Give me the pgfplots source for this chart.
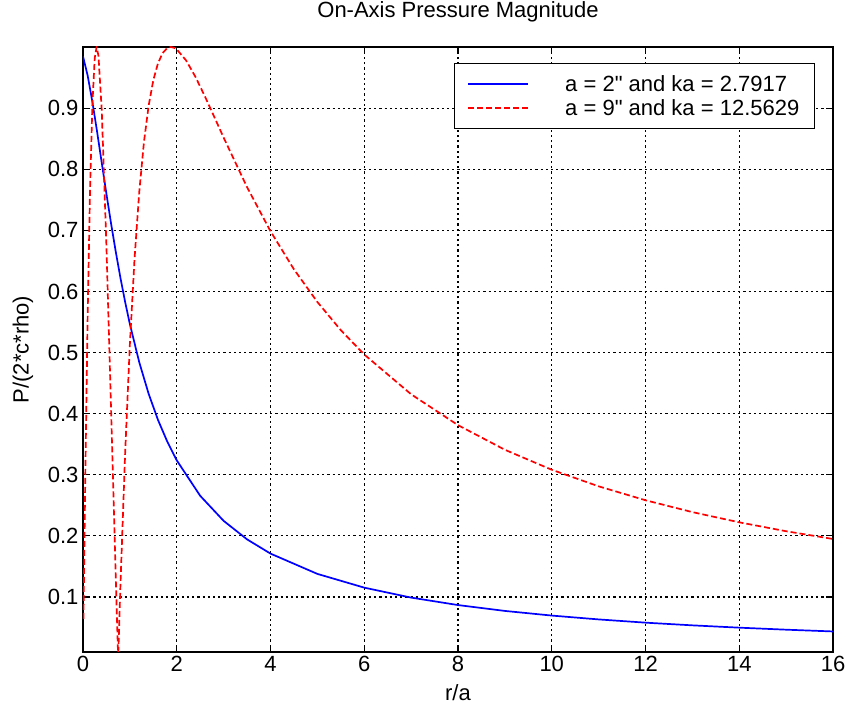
\documentclass[border=0pt]{standalone}
\usepackage{pgfplots}
\pgfplotsset{compat=1.18}
\usepackage{fontspec}
\setmainfont{Liberation Sans}[Ligatures=TeXOff]
\begin{document}
\begin{tikzpicture}
\useasboundingbox (0,0) rectangle (847pt,708pt);
\begin{axis}[
  at={(83pt,56pt)}, anchor=south west,
  scale only axis, width=750pt, height=605pt,
  xmin=0, xmax=16, ymin=0.01, ymax=1.0,
  xtick={0,2,...,16},
  ytick={0.1,0.2,0.3,0.4,0.5,0.6,0.7,0.8,0.9},
  yticklabel style={/pgf/number format/fixed,/pgf/number format/precision=1},
  /pgf/number format/assume math mode=true,
  tick align=inside, tick pos=both,
  major tick length=7pt,
  grid=major,
  major grid style={black, line width=1.1pt, dash pattern=on 2.2pt off 3pt},
  axis line style={black, line width=1.4pt},
  every tick/.style={black, line width=1.1pt},
  tick label style={font=\fontsize{22}{26}\selectfont},
  label style={font=\fontsize{22}{26}\selectfont},
  title style={font=\fontsize{22}{26}\selectfont, at={(axis description cs:0.5,1.048)}, anchor=center},
  title={On-Axis Pressure Magnitude},
  xlabel={r/a}, ylabel={P/(2*c*rho)},
  xlabel style={at={(axis description cs:0.5,-0.068)}, anchor=center},
  ylabel style={at={(axis description cs:-0.080,0.5)}, anchor=center, rotate=0},
  xticklabel style={yshift=-1pt},
  yticklabel style={xshift=-1pt},
  legend style={at={(0.976,0.9736)}, anchor=north east, draw=black, line width=1.3pt,
    font=\fontsize{22}{24}\selectfont, inner xsep=13pt, inner ysep=10pt,
    row sep=2pt,
    cells={anchor=west}},
  legend cell align=left,
  legend image code/.code={\draw[#1] (0pt,0pt) -- (60pt,0pt);},
  clip=true,
]
\addplot[blue, line width=1.7pt] coordinates {
(0,0.9847) (0.1,0.9531) (0.2,0.9104) (0.3,0.8617) (0.4,0.8105) (0.5,0.7596)
(0.6,0.7106) (0.7,0.6645) (0.8,0.6217) (0.9,0.5824) (1.0,0.5465) (1.2,0.4841)
(1.4,0.4326) (1.6,0.3897) (1.8,0.3539) (2.0,0.3236) (2.5,0.2656) (3,0.2246)
(3.5,0.1943) (4,0.1710) (5,0.1378) (6,0.1153) (7,0.0990) (8,0.0868)
(9,0.0772) (10,0.0696) (11,0.0633) (12,0.0580) (13,0.0536) (14,0.0498)
(15,0.0465) (16,0.0436)
};
\addlegendentry{\hspace{34pt}a = 2" and ka = 2.7917}
\addplot[red, line width=1.7pt, dash pattern=on 6pt off 3pt] coordinates {
(0.01,0.0642) (0.05,0.3031) (0.1,0.5635) (0.15,0.7667) (0.2,0.9060) (0.25,0.9816)
(0.29,1.0000) (0.33,0.9855) (0.4,0.8962) (0.5,0.6747) (0.6,0.4031) (0.7,0.1285)
(0.75,0.0009) (0.8,0.1223) (0.9,0.3373) (1.0,0.5139) (1.1,0.6542) (1.2,0.7626)
(1.3,0.8442) (1.4,0.9038) (1.5,0.9457) (1.6,0.9735) (1.7,0.9903) (1.8,0.9984)
(1.875,1.0000) (1.95,0.9985) (2.0,0.9961) (2.2,0.9780) (2.4,0.9510) (2.6,0.9193)
(2.8,0.8857) (3.0,0.8518) (3.5,0.7706) (4,0.6985) (4.5,0.6362) (5,0.5827)
(5.5,0.5366) (6,0.4968) (7,0.4317) (8,0.3812) (9,0.3409) (10,0.3082)
(11,0.2811) (12,0.2583) (13,0.2389) (14,0.2222) (15,0.2076) (16,0.1949)
};
\addlegendentry{\hspace{34pt}a = 9" and ka = 12.5629}
\end{axis}
\end{tikzpicture}
\end{document}
